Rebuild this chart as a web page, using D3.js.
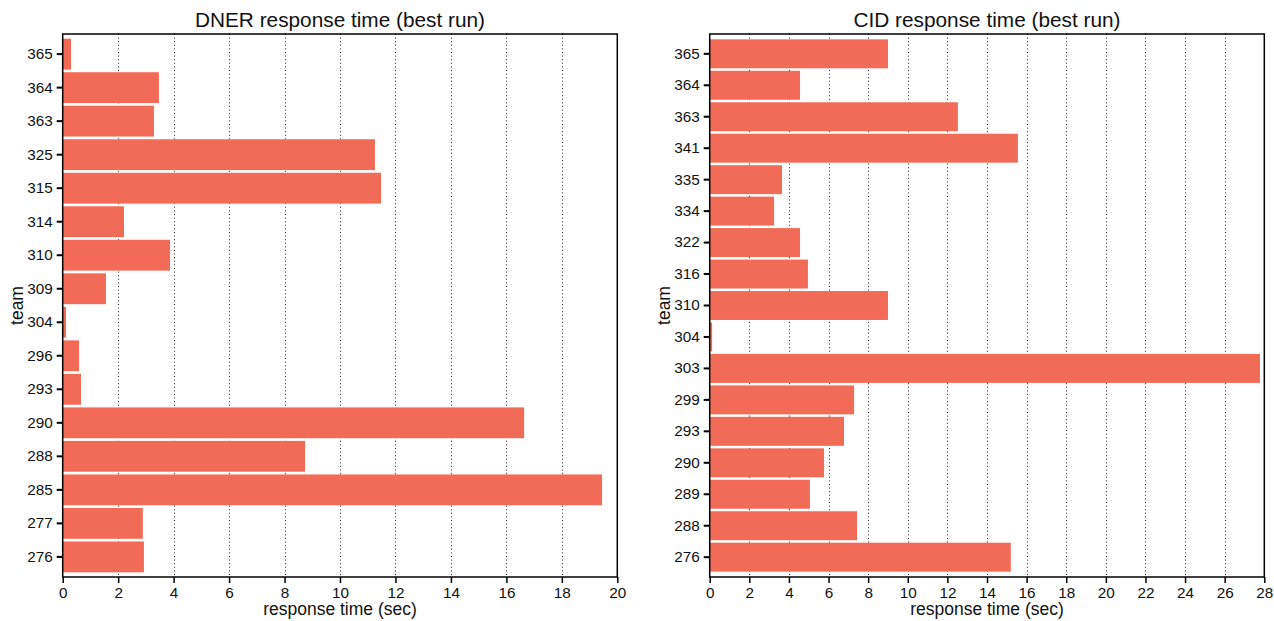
<!DOCTYPE html>
<html>
<head>
<meta charset="utf-8">
<script src="https://cdn.jsdelivr.net/npm/d3@7"></script>
<style>
  body { margin: 0; background: #fff; }
  svg, svg text { font-family: "Liberation Sans", Arial, Helvetica, sans-serif; }
</style>
</head>
<body>
<div id="chart"></div>
<script>
// DNER panel data (top to bottom)
let dnerTeams = ["365", "364", "363", "325", "315", "314", "310", "309", "304", "296", "293", "290", "288", "285", "277", "276"];
let dnerTimes = [0.30, 3.47, 3.29, 11.26, 11.48, 2.21, 3.87, 1.56, 0.12, 0.59, 0.66, 16.64, 8.74, 19.45, 2.89, 2.93];
let dnerTicks = [0, 2, 4, 6, 8, 10, 12, 14, 16, 18, 20];

// CID panel data (top to bottom)
let cidTeams = ["365", "364", "363", "341", "335", "334", "322", "316", "310", "304", "303", "299", "293", "290", "289", "288", "276"];
let cidTimes = [9.0, 4.56, 12.53, 15.56, 3.65, 3.25, 4.56, 4.96, 9.0, 0.12, 27.78, 7.29, 6.78, 5.77, 5.06, 7.44, 15.2];
let cidTicks = [0, 2, 4, 6, 8, 10, 12, 14, 16, 18, 20, 22, 24, 26, 28];

let WIDTH = 1274,
    HEIGHT = 621,
    TOP = 34,
    BOTTOM = 577,
    FONT = '"Liberation Sans", Arial, Helvetica, sans-serif',
    BAR_COLOR = "#f26b56";

let svg = d3.select("#chart")
    .append("svg")
    .attr("width", WIDTH)
    .attr("height", HEIGHT);

function drawPanel(opts) {
    let g = svg.append("g");

    let x = d3.scaleLinear()
        .domain([0, opts.xMax])
        .range([opts.left, opts.right]);

    let y = d3.scaleBand()
        .domain(opts.teams)
        .range([TOP, BOTTOM])
        .paddingInner(0.08)
        .paddingOuter(opts.outer);

    // dotted vertical grid
    g.append("g")
        .selectAll("line")
        .data(opts.ticks.filter(t => t > 0 && t < opts.xMax))
        .enter()
        .append("line")
        .attr("x1", d => Math.round(x(d)) + 0.5)
        .attr("x2", d => Math.round(x(d)) + 0.5)
        .attr("y1", TOP)
        .attr("y2", BOTTOM)
        .attr("stroke", "#222")
        .attr("stroke-width", 1)
        .attr("stroke-dasharray", "1,2.6");

    // bars
    g.append("g")
        .selectAll("rect")
        .data(opts.times)
        .enter()
        .append("rect")
        .attr("x", x(0))
        .attr("y", (d, i) => y(opts.teams[i]))
        .attr("width", d => x(d) - x(0))
        .attr("height", y.bandwidth())
        .attr("fill", BAR_COLOR);

    // x axis
    let xAxis = g.append("g")
        .attr("transform", `translate(0,${BOTTOM})`)
        .call(d3.axisBottom(x).tickValues(opts.ticks).tickSize(6).tickPadding(4).tickFormat(d3.format("d")));
    xAxis.attr("font-family", FONT).attr("font-size", null);
    xAxis.select(".domain").remove();
    xAxis.selectAll(".tick line").attr("stroke", "#000").attr("stroke-width", 1.5);
    xAxis.selectAll("text").attr("fill", "#111").style("font-size", "15.3px");

    // y axis
    let yAxis = g.append("g")
        .attr("transform", `translate(${opts.left},0)`)
        .call(d3.axisLeft(y).tickSize(6).tickPadding(4));
    yAxis.attr("font-family", FONT).attr("font-size", null);
    yAxis.select(".domain").remove();
    yAxis.selectAll(".tick line").attr("stroke", "#000").attr("stroke-width", 2);
    yAxis.selectAll("text").attr("fill", "#111").style("font-size", "15.3px");

    // frame
    g.append("rect")
        .attr("x", opts.left)
        .attr("y", TOP)
        .attr("width", opts.right - opts.left)
        .attr("height", BOTTOM - TOP)
        .attr("fill", "none")
        .attr("stroke", "#000")
        .attr("stroke-width", 1.5);

    // title
    g.append("text")
        .attr("x", (opts.left + opts.right) / 2)
        .attr("y", 27)
        .attr("text-anchor", "middle")
        .attr("fill", "#111")
        .style("font-size", "20.8px")
        .text(opts.title);

    // x label
    g.append("text")
        .attr("x", (opts.left + opts.right) / 2)
        .attr("y", 615)
        .attr("text-anchor", "middle")
        .attr("fill", "#111")
        .style("font-size", "17.5px")
        .text("response time (sec)");

    // y label
    g.append("text")
        .attr("transform", `translate(${opts.left - 40},${(TOP + BOTTOM) / 2}) rotate(-90)`)
        .attr("text-anchor", "middle")
        .attr("fill", "#111")
        .style("font-size", "17.5px")
        .text("team");
}

drawPanel({
    title: "DNER response time (best run)",
    teams: dnerTeams,
    times: dnerTimes,
    ticks: dnerTicks,
    xMax: 20,
    left: 62.7,
    right: 617.3,
    outer: 0.14
});

drawPanel({
    title: "CID response time (best run)",
    teams: cidTeams,
    times: cidTimes,
    ticks: cidTicks,
    xMax: 28,
    left: 709.7,
    right: 1264.3,
    outer: 0.17
});
</script>
</body>
</html>
